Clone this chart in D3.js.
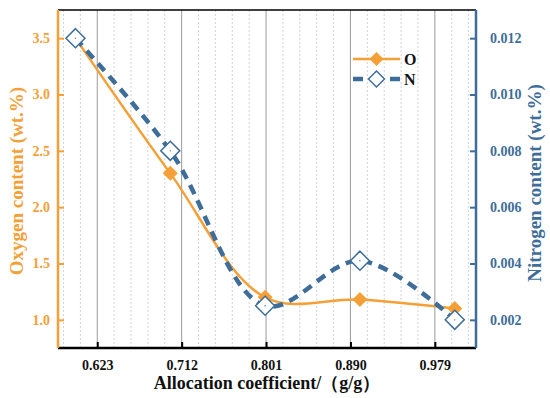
<!DOCTYPE html>
<html><head><meta charset="utf-8">
<script src="https://cdn.jsdelivr.net/npm/d3@7"></script>
<style>body{margin:0;background:#fff}svg{display:block}</style>
</head><body>
<svg id="c" width="550" height="398"></svg>
<script>
const xValues = [0.6, 0.7, 0.8, 0.9, 1.0];
const oxygen = [3.5, 2.3, 1.2, 1.18, 1.1];
const nitrogen = [0.012, 0.008, 0.0025, 0.0041, 0.002];
const xTicks = [0.623, 0.712, 0.801, 0.890, 0.979];
const yLeftTicks = [1.0, 1.5, 2.0, 2.5, 3.0, 3.5];
const yRightTicks = [0.002, 0.004, 0.006, 0.008, 0.010, 0.012];
const seriesNames = ["O", "N"];

const ORANGE = "#F5A037", BLUE = "#3E6D99";
const FONT = "'Liberation Serif','Times New Roman',serif";
const svg = d3.select("#c");
const L = 58, R = 476, T = 10, B = 348;

const x = d3.scaleLinear().domain([0.5816, 1.0224]).range([L, R]);
const yL = d3.scaleLinear().domain([0.75, 3.75]).range([B, T]);
const yR = d3.scaleLinear().domain([0.001, 0.013]).range([B, T]);

const step = 0.0178;
const minor = d3.range(-3, 30).map(i => +(0.623 + i * step).toFixed(4)).filter(v => v > 0.5816 && v < 1.0224);
const isMajor = v => xTicks.some(t => Math.abs(t - v) < 1e-4);

const g = svg.append("g");
g.selectAll(".mg").data(minor.filter(v => !isMajor(v))).join("line")
  .attr("x1", d => x(d)).attr("x2", d => x(d)).attr("y1", T).attr("y2", B)
  .attr("stroke", "#c8c8c8").attr("stroke-width", 0.8).attr("stroke-dasharray", "2,2");
g.selectAll(".Mg").data(xTicks).join("line")
  .attr("x1", d => x(d)).attr("x2", d => x(d)).attr("y1", T).attr("y2", B)
  .attr("stroke", "#9a9a9a").attr("stroke-width", 1);

svg.append("line").attr("x1", L).attr("x2", R).attr("y1", T).attr("y2", T).attr("stroke", "#000").attr("stroke-width", 1.5);

const xa = svg.append("g").attr("transform", `translate(0,${B})`);
xa.call(d3.axisBottom(x).tickValues(minor).tickSize(-3).tickFormat(""));
xa.call(d3.axisBottom(x).tickValues(xTicks).tickSize(-6).tickFormat(d3.format(".3f")).tickPadding(12));
xa.selectAll(".domain").remove();
xa.selectAll("line").attr("stroke", "#000").attr("stroke-width", 2);
xa.append("line").attr("x1", L).attr("x2", R).attr("stroke", "#000").attr("stroke-width", 2.5);
xa.selectAll("text").attr("font-family", FONT).attr("font-weight", "bold").attr("font-size", 14).attr("fill", "#111");

const ya = svg.append("g").attr("transform", `translate(${L},0)`);
ya.call(d3.axisLeft(yL).tickValues(d3.range(0.75, 3.751, 0.25)).tickSize(-3).tickFormat(""));
ya.call(d3.axisLeft(yL).tickValues(yLeftTicks).tickSize(-6).tickFormat(d3.format(".1f")).tickPadding(8));
ya.selectAll(".domain").remove();
ya.selectAll("line").attr("stroke", ORANGE).attr("stroke-width", 2);
ya.append("line").attr("y1", T).attr("y2", B).attr("stroke", ORANGE).attr("stroke-width", 2.5);
ya.selectAll("text").attr("font-family", FONT).attr("font-weight", "bold").attr("font-size", 14).attr("fill", ORANGE);

const yra = svg.append("g").attr("transform", `translate(${R},0)`);
yra.call(d3.axisRight(yR).tickValues(d3.range(0.001, 0.01301, 0.001)).tickSize(-3).tickFormat(""));
yra.call(d3.axisRight(yR).tickValues(yRightTicks).tickSize(-6).tickFormat(d3.format(".3f")).tickPadding(14));
yra.selectAll(".domain").remove();
yra.selectAll("line").attr("stroke", BLUE).attr("stroke-width", 2);
yra.append("line").attr("y1", T).attr("y2", B).attr("stroke", BLUE).attr("stroke-width", 2.5);
yra.selectAll("text").attr("font-family", FONT).attr("font-weight", "bold").attr("font-size", 14).attr("fill", BLUE);

const lineO = d3.line().x((d, i) => x(xValues[i])).y(d => yL(d)).curve(d3.curveCatmullRom.alpha(0.5));
const lineN = d3.line().x((d, i) => x(xValues[i])).y(d => yR(d)).curve(d3.curveCatmullRom.alpha(0.5));
svg.append("path").attr("d", lineO(oxygen)).attr("fill", "none").attr("stroke", ORANGE).attr("stroke-width", 2.5);
svg.append("path").attr("d", lineN(nitrogen)).attr("fill", "none").attr("stroke", BLUE).attr("stroke-width", 4.5).attr("stroke-dasharray", "10,7");

const diamond = r => `M0,${-r}L${r},0L0,${r}L${-r},0Z`;
svg.selectAll(".mo").data(oxygen).join("path")
  .attr("transform", (d, i) => `translate(${x(xValues[i])},${yL(d)})`)
  .attr("d", diamond(7.5)).attr("fill", ORANGE);
svg.selectAll(".mn").data(nitrogen).join("path")
  .attr("transform", (d, i) => `translate(${x(xValues[i])},${yR(d)})`)
  .attr("d", diamond(9.5)).attr("fill", "#fff").attr("stroke", BLUE).attr("stroke-width", 1.5);
svg.selectAll(".mnd").data(nitrogen).join("circle")
  .attr("cx", (d, i) => x(xValues[i])).attr("cy", d => yR(d)).attr("r", 0.7).attr("fill", BLUE);

const lg = svg.append("g").attr("transform", "translate(353,0)");
lg.append("line").attr("x1", 0).attr("x2", 47).attr("y1", 59).attr("y2", 59).attr("stroke", ORANGE).attr("stroke-width", 2.5);
lg.append("path").attr("transform", "translate(23.5,59)").attr("d", diamond(7)).attr("fill", ORANGE);
lg.append("line").attr("x1", 0).attr("x2", 10).attr("y1", 79).attr("y2", 79).attr("stroke", BLUE).attr("stroke-width", 4.5);
lg.append("line").attr("x1", 37).attr("x2", 47).attr("y1", 79).attr("y2", 79).attr("stroke", BLUE).attr("stroke-width", 4.5);
lg.append("path").attr("transform", "translate(23.5,79)").attr("d", diamond(8)).attr("fill", "#fff").attr("stroke", BLUE).attr("stroke-width", 1.5);
lg.selectAll(".lt").data(seriesNames).join("text")
  .attr("x", 51).attr("y", (d, i) => 65 + i * 20).text(d => d)
  .attr("font-family", FONT).attr("font-weight", "bold").attr("font-size", 16).attr("fill", "#111");

svg.append("text").attr("transform", "translate(23,181) rotate(-90)").attr("text-anchor", "middle")
  .attr("font-family", FONT).attr("font-weight", "bold").attr("font-size", 19).attr("fill", ORANGE)
  .text("Oxygen content (wt.%)");
svg.append("text").attr("transform", "translate(541,183) rotate(-90)").attr("text-anchor", "middle")
  .attr("font-family", FONT).attr("font-weight", "bold").attr("font-size", 19).attr("fill", BLUE)
  .text("Nitrogen content (wt.%)");
svg.append("text").attr("x", 267).attr("y", 389).attr("text-anchor", "middle")
  .attr("font-family", FONT).attr("font-weight", "bold").attr("font-size", 18).attr("fill", "#111")
  .text("Allocation coefficient/（g/g）");
</script>
</body></html>
